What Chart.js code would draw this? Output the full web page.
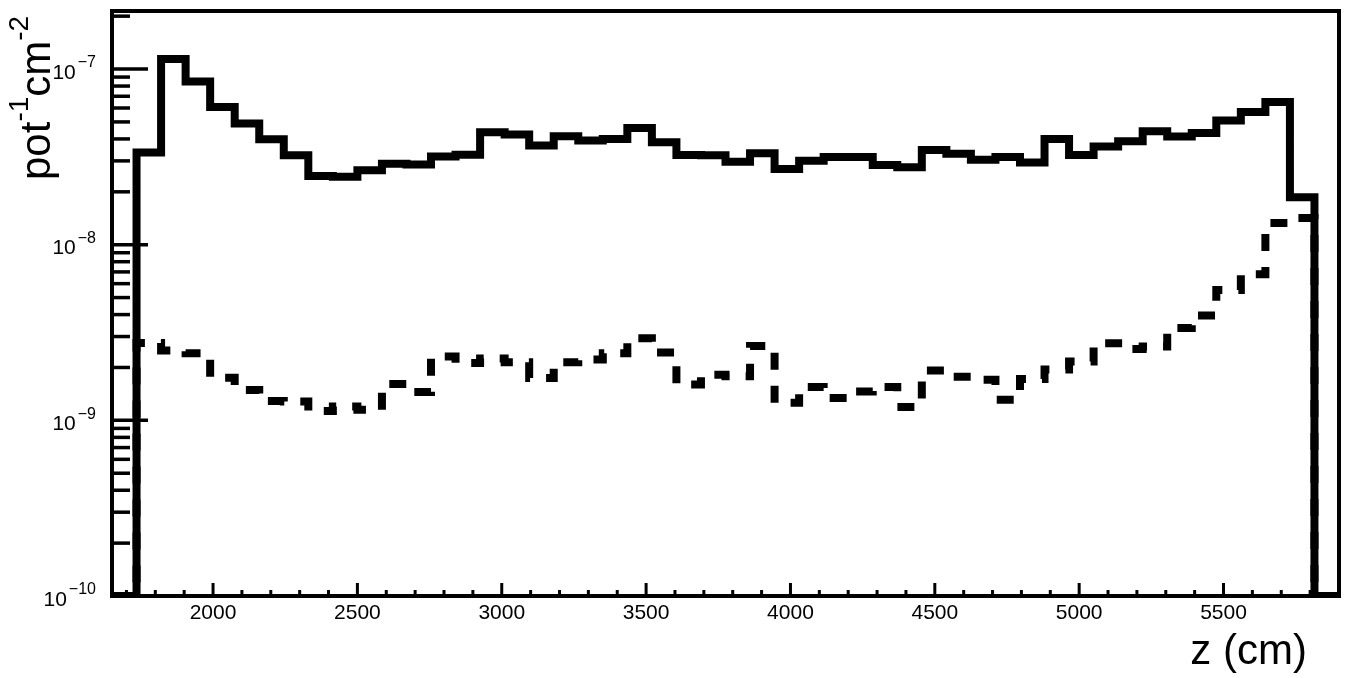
<!DOCTYPE html>
<html><head><meta charset="utf-8">
<script src="https://cdn.jsdelivr.net/npm/chart.js@4.4.1/dist/chart.umd.min.js"></script>
<style>html,body{margin:0;padding:0;background:#fff;}#wrap{width:1350px;height:678px;}</style>
</head><body><div id="wrap"><canvas id="c" width="1350" height="678"></canvas></div>
<script>
// Histogram bin edges (z, cm)
const binEdges = [1650,1735,1820,1905,1990,2075,2160,2245,2330,2415,2500,2585,2670,2755,2840,2925,3010,3095,3180,3265,3350,3435,3520,3605,3690,3775,3860,3945,4030,4115,4200,4285,4370,4455,4540,4625,4710,4795,4880,4965,5050,5135,5220,5305,5390,5475,5560,5645,5730,5815,5900];
// Solid histogram (pot^-1 cm^-2), one value per bin
const solidValues = [0,
 3.35e-8,1.14e-7,8.5e-8,6.08e-8,4.9e-8,3.98e-8,3.23e-8,2.46e-8,2.44e-8,2.65e-8,
 2.89e-8,2.86e-8,3.18e-8,3.25e-8,4.36e-8,4.24e-8,3.67e-8,4.14e-8,3.92e-8,4.0e-8,
 4.62e-8,3.83e-8,3.24e-8,3.23e-8,2.97e-8,3.32e-8,2.70e-8,3.01e-8,3.16e-8,3.16e-8,
 2.84e-8,2.76e-8,3.46e-8,3.29e-8,3.04e-8,3.16e-8,2.94e-8,4.0e-8,3.24e-8,3.62e-8,
 3.88e-8,4.42e-8,4.13e-8,4.32e-8,5.09e-8,5.70e-8,6.50e-8,1.86e-8,
 0];
// Dashed histogram
const dashedValues = [0,
 2.76e-9,2.50e-9,2.41e-9,1.75e-9,1.49e-9,1.29e-9,1.28e-9,1.13e-9,1.20e-9,1.15e-9,
 1.61e-9,1.45e-9,2.31e-9,2.12e-9,2.25e-9,2.14e-9,1.74e-9,2.14e-9,2.22e-9,2.41e-9,
 2.93e-9,2.43e-9,1.60e-9,1.82e-9,1.78e-9,2.65e-9,1.26e-9,1.55e-9,1.34e-9,1.46e-9,
 1.55e-9,1.19e-9,1.92e-9,1.77e-9,1.70e-9,1.31e-9,1.72e-9,1.95e-9,2.16e-9,2.75e-9,
 2.55e-9,2.63e-9,3.36e-9,3.95e-9,5.53e-9,6.78e-9,1.33e-8,1.42e-8,
 0];
const xRange = [1650, 5900];
const yRange = [1e-10, 2.14e-7];
const xTickValues = [2000,2500,3000,3500,4000,4500,5000,5500];
const xMinorStep = 100;
const yTickValues = [1e-10,1e-9,1e-8,1e-7];
const yTickBase = '10';
const yTickExponents = ['\u221210','\u22129','\u22128','\u22127'];
const yMinorFactors = [2,3,4,5,6,7,8,9];
const xTitle = 'z (cm)';
const yTitleParts = [['pot',false],['-1',true],['cm',false],['-2',true]];

const FONT = '"Liberation Sans", Arial, Helvetica, sans-serif';

function histPoints(values){
  // ROOT draws empty bins at the axis floor on a log scale
  const pts = values.map((v,i)=>({x:binEdges[i], y: v > 0 ? v : yRange[0]}));
  const last = values[values.length-1];
  pts.push({x:binEdges[values.length], y: last > 0 ? last : yRange[0]});
  return pts;
}

const rootAxes = {
  id:'rootAxes',
  afterDraw(chart){
    const ctx = chart.ctx, a = chart.chartArea;
    const xs = chart.scales.x, ys = chart.scales.y;
    ctx.save();
    ctx.strokeStyle = '#000'; ctx.fillStyle = '#000';
    // y ticks (inside, pointing right)
    ctx.lineWidth = 3.5;
    const d0 = Math.round(Math.log10(yRange[0])), d1 = Math.ceil(Math.log10(yRange[1]));
    for (let d = d0; d <= d1; d++) {
      const dec = Math.pow(10, d);
      if (dec >= yRange[0] && dec <= yRange[1]) {
        const p = ys.getPixelForValue(dec);
        ctx.beginPath(); ctx.moveTo(a.left, p); ctx.lineTo(a.left + 36, p); ctx.stroke();
      }
      yMinorFactors.forEach(f => {
        const v = f * dec;
        if (v > yRange[0] && v < yRange[1]) {
          const p = ys.getPixelForValue(v);
          ctx.beginPath(); ctx.moveTo(a.left, p); ctx.lineTo(a.left + 18, p); ctx.stroke();
        }
      });
    }
    // x ticks (inside, pointing up)
    ctx.lineWidth = 3;
    for (let v = Math.ceil(xRange[0]/xMinorStep)*xMinorStep; v < xRange[1]; v += xMinorStep) {
      const p = xs.getPixelForValue(v);
      const major = xTickValues.includes(v);
      ctx.beginPath(); ctx.moveTo(p, a.bottom); ctx.lineTo(p, a.bottom - (major ? 13 : 6)); ctx.stroke();
    }
    // frame
    ctx.lineWidth = 4;
    ctx.strokeRect(a.left, a.top, a.right - a.left, a.bottom - a.top);
    // y tick labels 10^n
    yTickValues.forEach((v, i) => {
      const p = ys.getPixelForValue(v);
      ctx.font = '16px ' + FONT;
      const supW = ctx.measureText(yTickExponents[i]).width;
      ctx.font = '21px ' + FONT;
      const baseW = ctx.measureText(yTickBase).width;
      const right = 96;
      ctx.textAlign = 'left'; ctx.textBaseline = 'middle';
      ctx.fillText(yTickBase, right - supW - 2 - baseW, p + 4);
      ctx.font = '16px ' + FONT;
      ctx.fillText(yTickExponents[i], right - supW, p - 6);
    });
    // x title
    ctx.font = '42px ' + FONT;
    ctx.textAlign = 'right'; ctx.textBaseline = 'alphabetic';
    ctx.fillText(xTitle, 1307, 664);
    // y title (rotated)
    ctx.translate(50, 180);
    ctx.rotate(-Math.PI/2);
    ctx.textAlign = 'left';
    let u = 0;
    yTitleParts.forEach(([t, sup]) => {
      ctx.font = (sup ? '28px ' : '42px ') + FONT;
      ctx.fillText(t, u, sup ? -22 : 0);
      u += ctx.measureText(t).width;
    });
    ctx.restore();
  }
};

new Chart(document.getElementById('c'), {
  type: 'line',
  data: {
    datasets: [
      { label: 'solid', data: histPoints(solidValues), stepped: 'before',
        borderColor: '#000', borderWidth: 8, pointRadius: 0, fill: false,
        borderJoinStyle: 'miter', borderCapStyle: 'butt' },
      { label: 'dashed', data: histPoints(dashedValues), stepped: 'before',
        borderColor: '#000', borderWidth: 8, pointRadius: 0, fill: false,
        borderDash: [17, 16], borderDashOffset: 28,
        borderJoinStyle: 'miter', borderCapStyle: 'butt' }
    ]
  },
  options: {
    responsive: false, animation: false, devicePixelRatio: 1,
    layout: { padding: { top: 11, right: 11, left: 0, bottom: 0 } },
    plugins: { legend: { display: false }, tooltip: { enabled: false } },
    scales: {
      x: {
        type: 'linear', position: 'bottom', min: xRange[0], max: xRange[1],
        grid: { display: false, drawTicks: false }, border: { display: false },
        ticks: { color: '#000', font: { family: FONT, size: 21 }, padding: 5,
                 maxRotation: 0, autoSkip: false, callback: v => String(v) },
        afterBuildTicks: s => { s.ticks = xTickValues.map(v => ({ value: v })); },
        afterFit: s => { s.height = 82; }
      },
      y: {
        type: 'logarithmic', min: yRange[0], max: yRange[1],
        grid: { display: false, drawTicks: false }, border: { display: false },
        ticks: { display: false },
        afterFit: s => { s.width = 112; }
      }
    }
  },
  plugins: [rootAxes]
});
</script></body></html>
